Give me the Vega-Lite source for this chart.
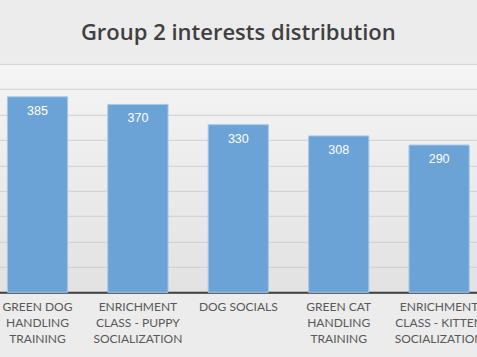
{
  "$schema": "https://vega.github.io/schema/vega-lite/v6.json",
  "width": 502,
  "height": 228.5,
  "autosize": {"type": "none"},
  "padding": {"left": -12.7, "top": 63.8, "right": -12.3, "bottom": 64.7},
  "background": "#ececec",
  "title": {
    "text": "Group 2 interests distribution",
    "fontSize": 22,
    "font": "Open Sans",
    "fontWeight": 600,
    "color": "#404040",
    "baseline": "alphabetic",
    "offset": 2,
    "anchor": "middle"
  },
  "config": {
    "view": {
      "stroke": null,
      "fill": {
        "gradient": "linear",
        "x1": 0, "y1": 0, "x2": 0, "y2": 1,
        "stops": [
          {"offset": 0, "color": "#f5f5f5"},
          {"offset": 1, "color": "#e2e2e2"}
        ]
      }
    }
  },
  "data": {
    "values": [
      {"interest": "GREEN DOG HANDLING TRAINING", "count": 385},
      {"interest": "ENRICHMENT CLASS - PUPPY SOCIALIZATION", "count": 370},
      {"interest": "DOG SOCIALS", "count": 330},
      {"interest": "GREEN CAT HANDLING TRAINING", "count": 308},
      {"interest": "ENRICHMENT CLASS - KITTEN SOCIALIZATION", "count": 290}
    ]
  },
  "encoding": {
    "x": {
      "field": "interest",
      "type": "nominal",
      "sort": null,
      "scale": {"paddingInner": 0.4, "paddingOuter": 0.2},
      "axis": {
        "title": null,
        "labelAngle": 0,
        "ticks": false,
        "domainColor": "#404040",
        "domainWidth": 2,
        "labelFont": "Lato",
        "labelFontSize": 12,
        "labelColor": "#595959",
        "labelLineHeight": 16,
        "labelPadding": 9,
        "labelBaseline": "top",
        "labelLimit": 0,
        "labelExpr": "datum.value == 'GREEN DOG HANDLING TRAINING' ? ['GREEN DOG', 'HANDLING', 'TRAINING'] : datum.value == 'ENRICHMENT CLASS - PUPPY SOCIALIZATION' ? ['ENRICHMENT', 'CLASS - PUPPY', 'SOCIALIZATION'] : datum.value == 'GREEN CAT HANDLING TRAINING' ? ['GREEN CAT', 'HANDLING', 'TRAINING'] : datum.value == 'ENRICHMENT CLASS - KITTEN SOCIALIZATION' ? ['ENRICHMENT', 'CLASS - KITTEN', 'SOCIALIZATION'] : datum.value"
      }
    },
    "y": {
      "field": "count",
      "type": "quantitative",
      "scale": {"domain": [0, 450], "nice": false},
      "axis": {
        "title": null,
        "labels": false,
        "ticks": false,
        "domain": false,
        "values": [0, 50, 100, 150, 200, 250, 300, 350, 400, 450],
        "gridColor": "#cfcfcf",
        "gridWidth": 1
      }
    }
  },
  "layer": [
    {
      "mark": {"type": "bar", "color": "#6ca3d7", "stroke": "#a6c8ea", "strokeWidth": 1}
    },
    {
      "mark": {"type": "text", "color": "white", "baseline": "middle", "dy": 14, "fontSize": 12.5, "font": "Liberation Sans"},
      "encoding": {"text": {"field": "count", "type": "quantitative"}}
    }
  ]
}
